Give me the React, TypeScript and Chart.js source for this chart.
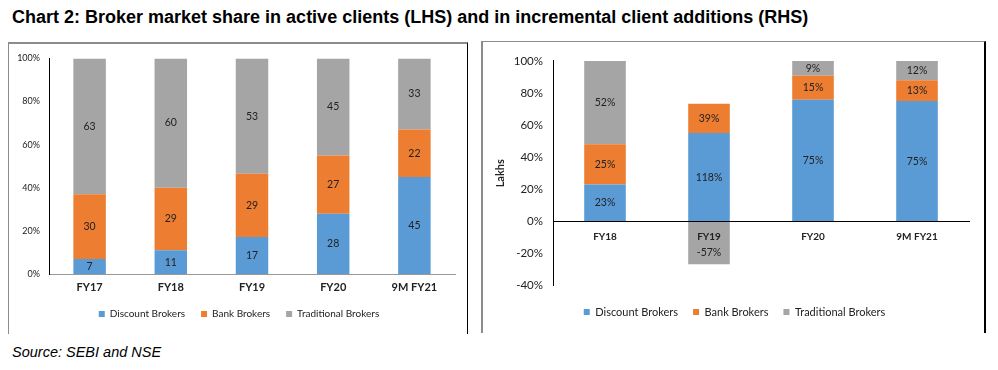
import React, { useEffect, useRef } from 'react';
import { Chart, registerables } from 'chart.js';
Chart.register(...registerables);

// ---- Data ----
const categoriesL = ['FY17', 'FY18', 'FY19', 'FY20', '9M FY21'];
const discountL = [7, 11, 17, 28, 45];
const bankL = [30, 29, 29, 27, 22];
const traditionalL = [63, 60, 53, 45, 33];

const categoriesR = ['FY18', 'FY19', 'FY20', '9M FY21'];
const discountR = [23, 118, 75, 75];
const bankR = [25, 39, 15, 13];
const traditionalR = [52, -57, 9, 12];

const seriesNames = ['Discount Brokers', 'Bank Brokers', 'Traditional Brokers'];
const seriesColors = ['#5B9BD5', '#ED7D31', '#A5A5A5'];

const yMinL = 0, yMaxL = 100, yStepL = 20;
const yMinR = -40, yMaxR = 100, yStepR = 20;

const FONT = 'Lato';

// Excel 100% stacked: value share of the sum of absolute values in each category
function normalize(series: number[][]): number[][] {
  return series.map((s) =>
    s.map((v, j) => (v / series.reduce((a, t) => a + Math.abs(t[j]), 0)) * 100)
  );
}

function labelPlugin(labels: number[][], suffix: string, size: number, negShift: number) {
  return {
    id: 'segLabels',
    afterDatasetsDraw(chart: any) {
      const ctx = chart.ctx;
      ctx.save();
      ctx.font = `${size}px ${FONT}`;
      ctx.fillStyle = '#222';
      ctx.textAlign = 'center';
      ctx.textBaseline = 'middle';
      chart.data.datasets.forEach((_ds: any, i: number) => {
        const meta = chart.getDatasetMeta(i);
        meta.data.forEach((el: any, j: number) => {
          const { x, y, base } = el.getProps(['x', 'y', 'base'], true);
          const v = labels[i][j];
          ctx.fillText(`${v}${suffix}`, x, (y + base) / 2 + (v < 0 ? negShift : 0));
        });
      });
      ctx.restore();
    },
  };
}

function LeftChart() {
  const ref = useRef<HTMLCanvasElement>(null);
  useEffect(() => {
    const raw = [discountL, bankL, traditionalL];
    const vals = normalize(raw);
    const chart = new Chart(ref.current!, {
      type: 'bar',
      data: {
        labels: categoriesL,
        datasets: vals.map((v, i) => ({
          label: seriesNames[i],
          data: v,
          backgroundColor: seriesColors[i],
          borderWidth: 0,
          categoryPercentage: 1,
          barPercentage: 0.4,
        })),
      },
      options: {
        responsive: false,
        animation: false,
        layout: { padding: { left: 0, right: 0, top: 13, bottom: 3 } },
        plugins: {
          tooltip: { enabled: false },
          legend: {
            position: 'bottom',
            labels: {
              boxWidth: 6,
              boxHeight: 6,
              padding: 16,
              color: '#222',
              font: { family: FONT, size: 10 },
            },
          },
        },
        scales: {
          x: {
            stacked: true,
            grid: { display: false, drawTicks: false },
            border: { display: true, color: '#999', width: 1 },
            ticks: { padding: 7, color: '#222', font: { family: FONT, size: 11, weight: 'bold' } },
            afterFit: (s: any) => { s.height = 19; },
          },
          y: {
            stacked: true,
            min: yMinL,
            max: yMaxL,
            grid: { display: false, drawTicks: false },
            border: { display: true, color: '#000', width: 1 },
            ticks: {
              stepSize: yStepL,
              padding: 9,
              color: '#222',
              font: { family: FONT, size: 9 },
              callback: (v: any) => `${v}%`,
            },
            afterFit: (s: any) => { s.width = 40; },
          },
          // empty right margin inside the plot frame
          yRight: {
            position: 'right',
            display: true,
            grid: { display: false, drawTicks: false },
            border: { display: false },
            ticks: { display: false },
            afterFit: (s: any) => { s.width = 14; },
          },
        },
      },
      plugins: [labelPlugin(raw, '', 10.5, 0)],
    });
    return () => chart.destroy();
  }, []);
  return (
    <canvas
      ref={ref}
      width={460}
      height={288}
      style={{ position: 'absolute', left: 9, top: 44, width: 460, height: 288 }}
    />
  );
}

function RightChart() {
  const ref = useRef<HTMLCanvasElement>(null);
  useEffect(() => {
    const raw = [discountR, bankR, traditionalR];
    const vals = normalize(raw);
    const chart = new Chart(ref.current!, {
      type: 'bar',
      data: {
        labels: categoriesR,
        datasets: vals.map((v, i) => ({
          label: seriesNames[i],
          data: v,
          backgroundColor: seriesColors[i],
          borderWidth: 0,
          categoryPercentage: 1,
          barPercentage: 0.4,
        })),
      },
      options: {
        responsive: false,
        animation: false,
        layout: { padding: { left: 17, right: 14, top: 12, bottom: 4.4 } },
        plugins: {
          tooltip: { enabled: false },
          legend: {
            position: 'bottom',
            title: { display: true, text: '', padding: 0, font: { size: 6, lineHeight: 1 } },
            labels: {
              boxWidth: 6,
              boxHeight: 6,
              padding: 15,
              color: '#222',
              font: { family: FONT, size: 11 },
            },
          },
        },
        scales: {
          x: {
            stacked: true,
            position: { y: 0 },
            grid: { display: false, drawTicks: false },
            border: { display: true, color: '#000', width: 1, z: 1 },
            ticks: { z: 1, padding: 9, color: '#222', font: { family: FONT, size: 10, weight: 'bold' } },
          },
          y: {
            stacked: true,
            min: yMinR,
            max: yMaxR,
            grid: { display: false, drawTicks: false },
            border: { display: true, color: '#000', width: 1 },
            title: {
              display: true,
              text: 'Lakhs',
              color: '#222',
              padding: { top: -6.6, bottom: 0 },
              font: { family: FONT, size: 11, weight: 'bold' },
            },
            ticks: {
              stepSize: yStepR,
              padding: 10,
              color: '#222',
              font: { family: FONT, size: 11.5 },
              callback: (v: any) => `${v}%`,
            },
            afterFit: (s: any) => { s.width = 53; },
          },
        },
      },
      plugins: [labelPlugin(raw, '%', 10.5, 10)],
    });
    return () => chart.destroy();
  }, []);
  return (
    <canvas
      ref={ref}
      width={500}
      height={288}
      style={{ position: 'absolute', left: 483, top: 44, width: 500, height: 288 }}
    />
  );
}

export default function App() {
  return (
    <div style={{ position: 'absolute', left: 0, top: 0, width: 998, height: 370, background: '#fff', overflow: 'hidden' }}>
      <div
        style={{
          position: 'absolute', left: 12, top: 7, fontFamily: 'Liberation Sans, Arial, sans-serif',
          fontWeight: 'bold', fontSize: 18, lineHeight: '20px', color: '#000', whiteSpace: 'nowrap',
        }}
      >
        Chart 2: Broker market share in active clients (LHS) and in incremental client additions (RHS)
      </div>
      <div
        style={{
          position: 'absolute', left: 8, top: 42, width: 458, height: 290,
          borderTop: '2px solid #8c8c8c', borderLeft: '1px solid #8c8c8c', borderRight: '1px solid #000',
        }}
      />
      <div
        style={{
          position: 'absolute', left: 481, top: 41, width: 501, height: 291,
          borderTop: '1px solid #8c8c8c', borderLeft: '2px solid #8c8c8c', borderRight: '2px solid #000',
        }}
      />
      <LeftChart />
      <RightChart />
      <div
        style={{
          position: 'absolute', left: 12, top: 344, fontFamily: 'Liberation Sans, Arial, sans-serif',
          fontStyle: 'italic', fontSize: 14.5, lineHeight: '16px', color: '#000', whiteSpace: 'nowrap',
        }}
      >
        Source: SEBI and NSE
      </div>
    </div>
  );
}
